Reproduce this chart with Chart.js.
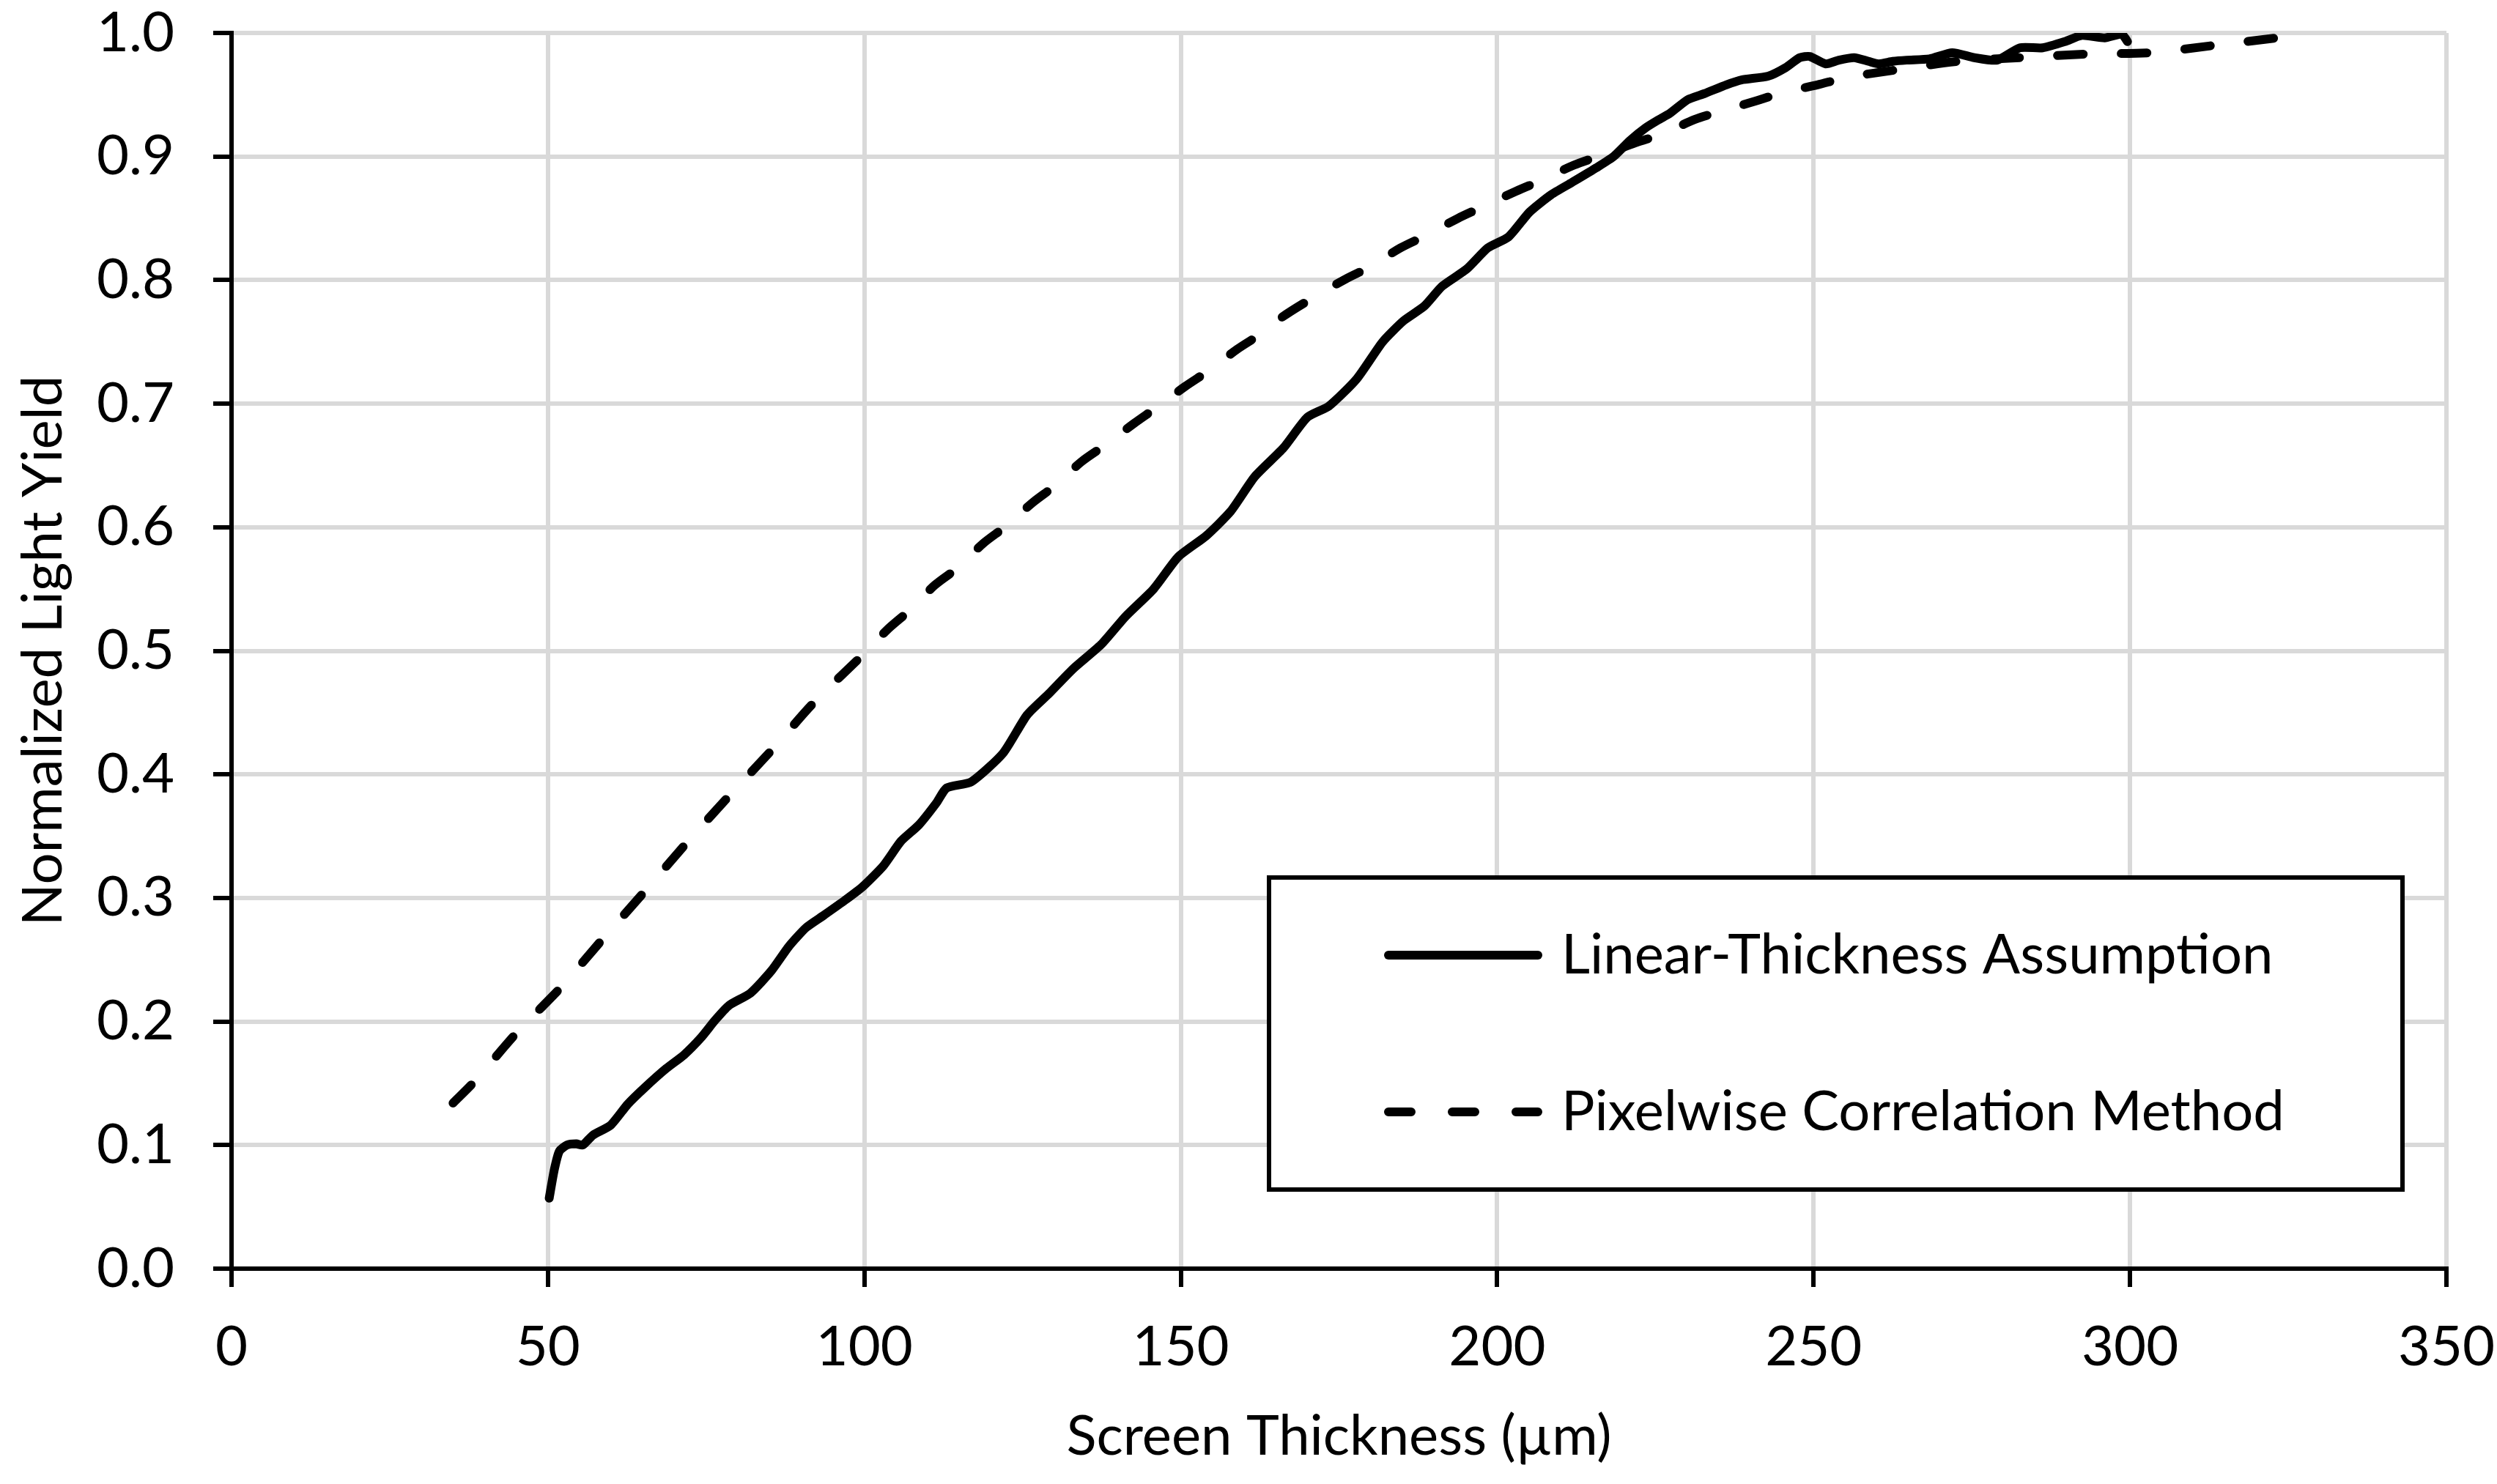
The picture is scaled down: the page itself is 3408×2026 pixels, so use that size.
<!DOCTYPE html>
<html>
<head>
<meta charset="utf-8">
<style>
  html, body { margin: 0; padding: 0; background: #fff; }
  #wrap { width: 3408px; height: 2026px; }
</style>
<script src="https://cdn.jsdelivr.net/npm/chart.js@4.4.1/dist/chart.umd.min.js"></script>
</head>
<body>
<div id="wrap"><canvas id="chart" width="3408" height="2026"></canvas></div>
<script>
const FONT = 'Lato';
const FONT_SIZE = 76;

// Linear-Thickness Assumption (solid)
const linearX = [50.2, 51.0, 51.8, 53.0, 54.5, 55.5, 57.1, 59.9, 62.6, 65.4, 68.7, 71.5, 74.2, 76.4, 78.6,
  82.0, 85.3, 88.1, 90.8, 93.6, 96.9, 99.7, 103.0, 105.8, 108.6, 111.4, 113.0, 116.9, 121.9, 125.7,
  129.1, 132.9, 137.4, 141.3, 145.7, 149.6, 154.0, 157.9, 161.7, 166.2, 170.0, 173.4, 177.8, 181.9,
  185.2, 188.5, 191.3, 195.2, 198.5, 201.8, 205.1, 208.5, 211.8, 215.7, 218.4, 221.0, 223.4, 225.6,
  227.3, 230.1, 232.8, 236.2, 238.6, 242.8, 245.6, 247.8, 249.4, 251.9, 254.0, 256.4, 258.7, 260.3,
  262.5, 264.7, 268.3, 271.9, 275.4, 279.0, 282.6, 286.2, 289.7, 292.4, 296.0, 298.7, 299.6];
const linearY = [0.057, 0.080, 0.095, 0.100, 0.101, 0.100, 0.108, 0.116, 0.133, 0.147, 0.162, 0.173, 0.187, 0.201, 0.213,
  0.223, 0.241, 0.261, 0.276, 0.286, 0.298, 0.309, 0.326, 0.346, 0.359, 0.377, 0.389, 0.394, 0.417, 0.448,
  0.465, 0.485, 0.505, 0.528, 0.550, 0.576, 0.593, 0.613, 0.641, 0.664, 0.689, 0.698, 0.720, 0.750,
  0.767, 0.779, 0.795, 0.809, 0.826, 0.835, 0.855, 0.869, 0.879, 0.891, 0.900, 0.913, 0.923, 0.930,
  0.935, 0.946, 0.951, 0.958, 0.962, 0.965, 0.972, 0.980, 0.981, 0.975, 0.978, 0.980, 0.977, 0.975,
  0.977, 0.978, 0.979, 0.984, 0.980, 0.978, 0.988, 0.988, 0.993, 0.998, 0.996, 0.999, 0.993];

// Pixelwise Correlation Method (dashed)
const pixelX = [35.0, 38.3, 44.9, 48.9, 52.1, 58.7, 65.4, 72.0, 78.7, 85.6, 92.0, 100.0, 103.6, 107.2, 111.1,
  114.7, 118.8, 122.4, 126.6, 130.2, 134.3, 138.2, 142.6, 146.2, 150.7, 154.5, 158.9, 162.8, 166.0, 170.0,
  176.1, 180.0, 184.7, 189.1, 193.8, 198.0, 203.0, 207.1, 212.1, 216.5, 221.8, 226.5, 231.2, 235.6, 240.9,
  245.3, 250.6, 255.3, 262.9, 272.8, 282.6, 293.3, 303.1, 313.4, 323.2, 326.0];
const pixelY = [0.134, 0.151, 0.190, 0.211, 0.228, 0.267, 0.306, 0.345, 0.383, 0.421, 0.458, 0.498, 0.517, 0.533, 0.553,
  0.567, 0.587, 0.601, 0.620, 0.634, 0.653, 0.667, 0.684, 0.697, 0.714, 0.727, 0.744, 0.757, 0.770, 0.783,
  0.801, 0.811, 0.826, 0.837, 0.850, 0.860, 0.872, 0.881, 0.893, 0.901, 0.911, 0.919, 0.930, 0.937, 0.945,
  0.952, 0.958, 0.964, 0.970, 0.977, 0.980, 0.983, 0.984, 0.990, 0.996, 0.998];

const xTicks = [0, 50, 100, 150, 200, 250, 300, 350];
const yTicks = [0.0, 0.1, 0.2, 0.3, 0.4, 0.5, 0.6, 0.7, 0.8, 0.9, 1.0];

const toPoints = (xs, ys) => xs.map((x, i) => ({ x, y: ys[i] }));

// keep the tick padding from pushing the plot area in
function noScalePadding(s) {
  s.paddingTop = 0;
  s.paddingBottom = 0;
  s.paddingLeft = 0;
  s.paddingRight = 0;
}

// legend drawn as a boxed panel inside the plot, like the original
const boxLegend = {
  id: 'boxLegend',
  afterDraw(chart) {
    const { ctx, chartArea: a } = chart;
    const left = a.left + 1416, top = a.top + 1153, w = 1547, h = 426;
    ctx.save();
    ctx.fillStyle = '#fff';
    ctx.fillRect(left, top, w, h);
    ctx.strokeStyle = '#000';
    ctx.lineWidth = 6;
    ctx.strokeRect(left, top, w, h);

    const rows = [top + 106, top + 320];
    chart.data.datasets.forEach((ds, i) => {
      const y = rows[i];
      ctx.beginPath();
      ctx.lineWidth = ds.borderWidth;
      ctx.lineCap = 'round';
      ctx.strokeStyle = ds.borderColor;
      ctx.setLineDash(ds.borderDash ? [31, 56] : []);
      ctx.moveTo(left + 163, y);
      ctx.lineTo(left + 367, y);
      ctx.stroke();
      ctx.setLineDash([]);
      ctx.fillStyle = '#000';
      ctx.font = FONT_SIZE + 'px ' + FONT;
      ctx.textAlign = 'left';
      ctx.textBaseline = 'middle';
      ctx.fillText(ds.label, left + 399, y);
    });
    ctx.restore();
  },
};

new Chart(document.getElementById('chart').getContext('2d'), {
  type: 'line',
  data: {
    datasets: [
      {
        label: 'Linear-Thickness Assumption',
        data: toPoints(linearX, linearY),
        borderColor: '#000',
        borderWidth: 12,
        borderCapStyle: 'round',
        borderJoinStyle: 'round',
        pointRadius: 0,
        tension: 0.2,
      },
      {
        label: 'Pixelwise Correlation Method',
        data: toPoints(pixelX, pixelY),
        borderColor: '#000',
        borderWidth: 12,
        borderDash: [35, 52],
        borderCapStyle: 'round',
        borderJoinStyle: 'round',
        pointRadius: 0,
        tension: 0.3,
      },
    ],
  },
  options: {
    responsive: false,
    animation: false,
    devicePixelRatio: 1,
    layout: { padding: { top: 45, right: 69, left: 0, bottom: 0 } },
    plugins: { legend: { display: false }, tooltip: { enabled: false } },
    scales: {
      x: {
        type: 'linear',
        min: 0,
        max: 350,
        afterBuildTicks: (s) => { s.ticks = xTicks.map(v => ({ value: v })); },
        afterFit: (s) => { s.height = 294; noScalePadding(s); },
        ticks: {
          color: '#000',
          font: { family: FONT, size: FONT_SIZE },
          padding: 37,
          maxRotation: 0,
        },
        grid: { color: '#d9d9d9', lineWidth: 6, tickLength: 25, tickColor: '#000', tickWidth: 6 },
        border: { color: '#000', width: 6 },
        title: {
          display: true,
          text: 'Screen Thickness (µm)',
          color: '#000',
          font: { family: FONT, size: FONT_SIZE },
          padding: { top: 0, bottom: 19 },
        },
      },
      y: {
        type: 'linear',
        min: 0,
        max: 1,
        afterBuildTicks: (s) => { s.ticks = yTicks.map(v => ({ value: v })); },
        afterFit: (s) => { s.width = 316; noScalePadding(s); },
        ticks: {
          color: '#000',
          font: { family: FONT, size: FONT_SIZE },
          padding: 53,
          callback: (v) => v.toFixed(1),
        },
        grid: { color: '#d9d9d9', lineWidth: 6, tickLength: 25, tickColor: '#000', tickWidth: 6 },
        border: { color: '#000', width: 6 },
        title: {
          display: true,
          text: 'Normalized Light Yield',
          color: '#000',
          font: { family: FONT, size: FONT_SIZE },
          padding: { top: 14, bottom: 0 },
        },
      },
    },
  },
  plugins: [boxLegend],
});
</script>
</body>
</html>
